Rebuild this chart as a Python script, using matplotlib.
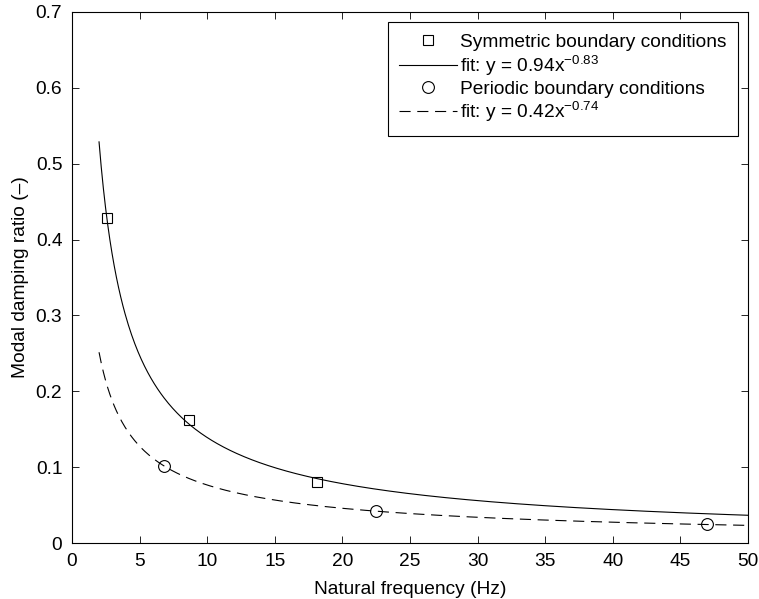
import numpy as np
import matplotlib
matplotlib.use("Agg")
import matplotlib.pyplot as plt

plt.rcParams['font.family'] = ['Liberation Sans', 'DejaVu Sans']
plt.rcParams['mathtext.fontset'] = 'custom'
plt.rcParams['mathtext.rm'] = 'Liberation Sans'
plt.rcParams['mathtext.it'] = 'Liberation Sans'
plt.rcParams['mathtext.default'] = 'regular'

# measured modal damping ratios
sym_freq = [2.6, 8.65, 18.1]
sym_damp = [0.429, 0.162, 0.080]
per_freq = [6.8, 22.5, 47.0]
per_damp = [0.102, 0.042, 0.025]

# power-law fit coefficients y = a * x^b (from legend)
sym_fit = (0.94, -0.83)
per_fit = (0.42, -0.74)
fit_range = (2.0, 50.0)

xticks = list(range(0, 51, 5))
yticks = [0, 0.1, 0.2, 0.3, 0.4, 0.5, 0.6, 0.7]
ytick_labels = ['0', '0.1', '0.2', '0.3', '0.4', '0.5', '0.6', '0.7']

FS = 13.8

fig = plt.figure(figsize=(7.59, 5.99), dpi=100)
ax = fig.add_axes([72 / 759, 1 - 543 / 599, 676 / 759, 531 / 599])

xf = np.linspace(fit_range[0], fit_range[1], 600)

ax.plot(sym_freq, sym_damp, 's', ms=7, mfc='none', mec='k', mew=0.8,
        label='Symmetric boundary conditions')
ax.plot(xf, sym_fit[0] * xf ** sym_fit[1], '-', color='k', lw=0.8,
        label='fit: y = %.2fx$^{%.2f}$' % sym_fit)
ax.plot(per_freq, per_damp, 'o', ms=8.5, mfc='none', mec='k', mew=0.8,
        label='Periodic boundary conditions')
ax.plot(xf, per_fit[0] * xf ** per_fit[1], '--', color='k', lw=0.8,
        dashes=(10, 6), label='fit: y = %.2fx$^{%.2f}$' % per_fit)

ax.set_xlim(0, 50)
ax.set_ylim(0, 0.7)
ax.set_xticks(xticks)
ax.set_yticks(yticks)
ax.set_yticklabels(ytick_labels)
ax.tick_params(direction='in', top=True, right=True, length=5, width=0.6,
               labelsize=FS, pad=7)
for s in ax.spines.values():
    s.set_linewidth(0.8)

ax.set_xlabel('Natural frequency (Hz)', fontsize=FS, labelpad=8)
ax.set_ylabel('Modal damping ratio (\u2013)', fontsize=FS, labelpad=5)

leg = ax.legend(loc='upper right', bbox_to_anchor=(0.985, 0.981),
                borderaxespad=0, fontsize=FS, fancybox=False, framealpha=1,
                edgecolor='k', handlelength=3.0, handletextpad=0.15,
                labelspacing=0.13, borderpad=0.6)
leg.get_frame().set_linewidth(0.8)

fig.savefig('out.png', dpi=100)
